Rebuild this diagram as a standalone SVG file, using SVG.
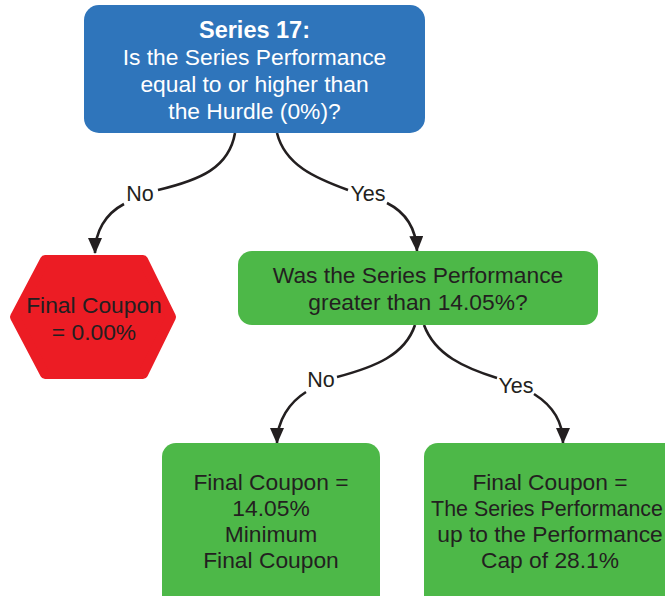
<svg xmlns="http://www.w3.org/2000/svg" width="665" height="596" viewBox="0 0 665 596">
<style>
text{font-family:"Liberation Sans",Arial,sans-serif;font-size:22.8px;text-anchor:middle;fill:#231F20}
.w{fill:#ffffff}
.b{font-weight:bold;font-size:23.5px}
.lbl{font-size:21.5px}
.fit{font-size:21.4px}
.conn{fill:none;stroke:#231F20;stroke-width:2.6}
</style>
<defs>
<marker id="arr" viewBox="0 0 16 14" refX="15" refY="7" markerWidth="16" markerHeight="14" markerUnits="userSpaceOnUse" orient="auto">
<path d="M0,0 L16,7 L0,14 z" fill="#231F20"/>
</marker>
</defs>
<rect width="665" height="596" fill="#ffffff"/>
<g id="connectors">
<path class="conn" d="M235,133 C229,168 200,180 158,190"/>
<path class="conn" d="M124,204 C105,214 95,232 95,253" marker-end="url(#arr)"/>
<path class="conn" d="M277,133 C285,165 315,178 348,190"/>
<path class="conn" d="M387,203 C405,212 416,228 417,251" marker-end="url(#arr)"/>
<path class="conn" d="M415,325 C405,355 375,367 337,377"/>
<path class="conn" d="M306,392 C290,402 277,420 277,443" marker-end="url(#arr)"/>
<path class="conn" d="M424,325 C435,355 465,368 497,378"/>
<path class="conn" d="M534,394 C550,404 563,420 563,443" marker-end="url(#arr)"/>
<text class="lbl" x="140" y="201">No</text>
<text class="lbl" x="368" y="201">Yes</text>
<text class="lbl" x="321" y="387">No</text>
<text class="lbl" x="516" y="393">Yes</text>
</g>
<g id="q1">
<rect x="84" y="5" width="341" height="128" rx="15" fill="#2F75BB"/>
<text class="w b" x="254.5" y="38">Series 17:</text>
<text class="w" x="254.5" y="65">Is the Series Performance</text>
<text class="w" x="254.5" y="92">equal to or higher than</text>
<text class="w" x="254.5" y="119">the Hurdle (0%)?</text>
</g>
<g id="zero">
<polygon points="45,260 143,260 171,317 143,374 45,374 15,317" fill="#EC1C24" stroke="#EC1C24" stroke-width="10" stroke-linejoin="round"/>
<text x="94" y="313">Final Coupon</text>
<text x="94" y="340">= 0.00%</text>
</g>
<g id="q2">
<rect x="238" y="251" width="360" height="74" rx="14" fill="#4DB848"/>
<text x="418" y="283">Was the Series Performance</text>
<text x="418" y="310">greater than 14.05%?</text>
</g>
<g id="min">
<rect x="162" y="443" width="218" height="170" rx="14" fill="#4DB848"/>
<text x="271" y="490">Final Coupon =</text>
<text x="271" y="516">14.05%</text>
<text x="271" y="542">Minimum</text>
<text x="271" y="568">Final Coupon</text>
</g>
<g id="cap">
<rect x="424" y="443" width="262" height="170" rx="14" fill="#4DB848"/>
<text x="550" y="490">Final Coupon =</text>
<text class="fit" x="547" y="516">The Series Performance</text>
<text x="550" y="542">up to the Performance</text>
<text x="550" y="568">Cap of 28.1%</text>
</g>
</svg>
